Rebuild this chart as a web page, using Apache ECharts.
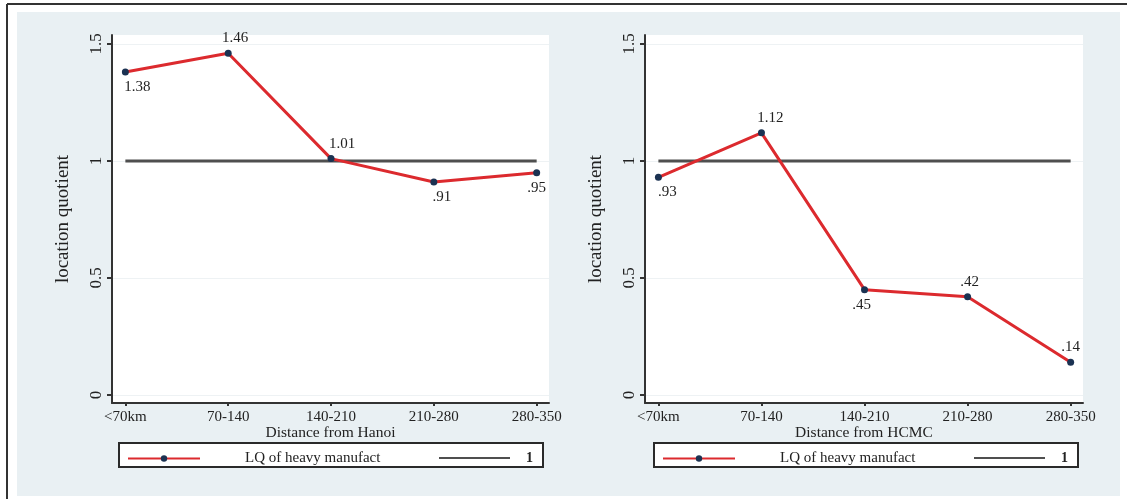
<!DOCTYPE html>
<html>
<head>
<meta charset="utf-8">
<script src="https://cdn.jsdelivr.net/npm/echarts@6/dist/echarts.min.js"></script>
<style>html,body{margin:0;padding:0;background:#fff}#c{width:1127px;height:499px}</style>
</head>
<body>
<div id="c"></div>
<script>
// ---- data ----
const categories = ['<70km', '70-140', '140-210', '210-280', '280-350'];
const hanoiLQ = [1.38, 1.46, 1.01, 0.91, 0.95];
const hcmcLQ = [0.93, 1.12, 0.45, 0.42, 0.14];
const refLine = [1, 1, 1, 1, 1];
const yTicks = [0, 0.5, 1, 1.5];
const xTitles = ['Distance from Hanoi', 'Distance from HCMC'];
const seriesName = 'LQ of heavy manufact';
const refName = '1';
const yTitle = 'location quotient';

// ---- styles / layout ----
const FF = '"Liberation Serif", "DejaVu Serif", serif';
const TXT = '#222';
const AX = '#333';
const panels = [
  { left: 112, width: 437, box: 119, vals: hanoiLQ, title: xTitles[0],
    pos: ['bottom', 'top', 'top', 'bottom', 'bottom'], off: [12, 7, 11, 8, 0] },
  { left: 645, width: 438, box: 654, vals: hcmcLQ, title: xTitles[1],
    pos: ['bottom', 'top', 'bottom', 'top', 'top'], off: [9, 9, -3, 2, 0] }
];
const xIdx = categories.map((c, j) => j);
const fmt = v => v.toFixed(2).replace(/^0/, '');

const grid = [], xAxis = [], yAxis = [], series = [], legend = [], graphic = [];

graphic.push({ type: 'rect', shape: { x: 17, y: 12, width: 1103, height: 484 }, style: { fill: '#e9f0f3' }, z: -10 });
graphic.push({ type: 'line', shape: { x1: 7, y1: 4, x2: 1127, y2: 4 }, style: { stroke: '#333', lineWidth: 2 }, z: -9 });
graphic.push({ type: 'line', shape: { x1: 7, y1: 4, x2: 7, y2: 499 }, style: { stroke: '#333', lineWidth: 2 }, z: -9 });

panels.forEach((p, i) => {
  grid.push({ left: p.left, top: 35, width: p.width, height: 368, show: true, backgroundColor: '#fff', borderWidth: 0 });
  xAxis.push({
    type: 'value', gridIndex: i, min: -0.13, max: 4.12,
    axisLine: { show: true, onZero: false, lineStyle: { color: AX, width: 2 } },
    axisTick: { show: true, customValues: xIdx, length: 3, lineStyle: { color: AX, width: 2 } },
    axisLabel: { customValues: xIdx, formatter: v => categories[Math.round(v)], fontSize: 15, color: TXT, fontFamily: FF, margin: 7 },
    splitLine: { show: false },
    name: p.title, nameLocation: 'middle', nameGap: 22, nameMoveOverlap: false,
    nameTextStyle: { fontSize: 15.5, color: TXT, fontFamily: FF }
  });
  yAxis.push({
    type: 'value', gridIndex: i, min: -0.034, max: 1.538,
    axisLine: { show: true, onZero: false, lineStyle: { color: AX, width: 2 } },
    axisTick: { show: true, customValues: yTicks, length: 5, lineStyle: { color: AX, width: 2 } },
    axisLabel: { customValues: yTicks, formatter: v => String(v), rotate: 90, fontSize: 17, color: TXT, fontFamily: FF, margin: 7 },
    splitLine: { show: true, lineStyle: { color: '#eef2f4', width: 1 } },
    name: yTitle, nameLocation: 'middle', nameGap: 39, nameMoveOverlap: false,
    nameTextStyle: { fontSize: 19, color: TXT, fontFamily: FF }
  });
  series.push({
    type: 'line', name: refName, xAxisIndex: i, yAxisIndex: i,
    data: refLine.map((v, j) => [j, v]),
    symbol: 'none', silent: true, z: 2,
    lineStyle: { color: '#4f4f4f', width: 3 }, itemStyle: { color: '#4f4f4f' }
  });
  series.push({
    type: 'line', name: seriesName, xAxisIndex: i, yAxisIndex: i,
    data: p.vals.map((v, j) => ({ value: [j, v], label: { position: p.pos[j], offset: [p.off[j], 0] } })),
    symbol: 'circle', symbolSize: 7, z: 3, silent: true,
    itemStyle: { color: '#1b3252' },
    lineStyle: { color: '#dc2a2e', width: 3 },
    label: { show: true, distance: 4, formatter: q => fmt(q.value[1]), fontSize: 15, color: TXT, fontFamily: FF }
  });
  graphic.push({ type: 'rect', shape: { x: p.box, y: 443, width: 424, height: 24 }, style: { fill: '#fff', stroke: '#2a2a2a', lineWidth: 2 }, z: 1 });
  legend.push({
    left: p.box + 8, top: 451, padding: 0, itemWidth: 72, itemHeight: 8, selectedMode: false,
    data: [seriesName],
    formatter: n => '{t|' + n + '}',
    textStyle: { fontSize: 15, color: TXT, fontFamily: FF, rich: { t: { padding: [0, 0, 0, 40], fontSize: 15, color: TXT, fontFamily: FF } } }
  });
  legend.push({
    left: p.box + 319, top: 451, padding: 0, itemWidth: 71, itemHeight: 8, selectedMode: false,
    data: [{ name: refName, itemStyle: { opacity: 0 } }],
    formatter: n => '{t|' + n + '}',
    textStyle: { fontSize: 14, color: TXT, fontFamily: FF, rich: { t: { padding: [0, 0, 0, 11], fontSize: 14, fontWeight: 'bold', color: TXT, fontFamily: FF } } }
  });
});

const chart = echarts.init(document.getElementById('c'));
chart.setOption({
  animation: false,
  backgroundColor: '#fff',
  grid, xAxis, yAxis, series, legend, graphic
});
</script>
</body>
</html>
